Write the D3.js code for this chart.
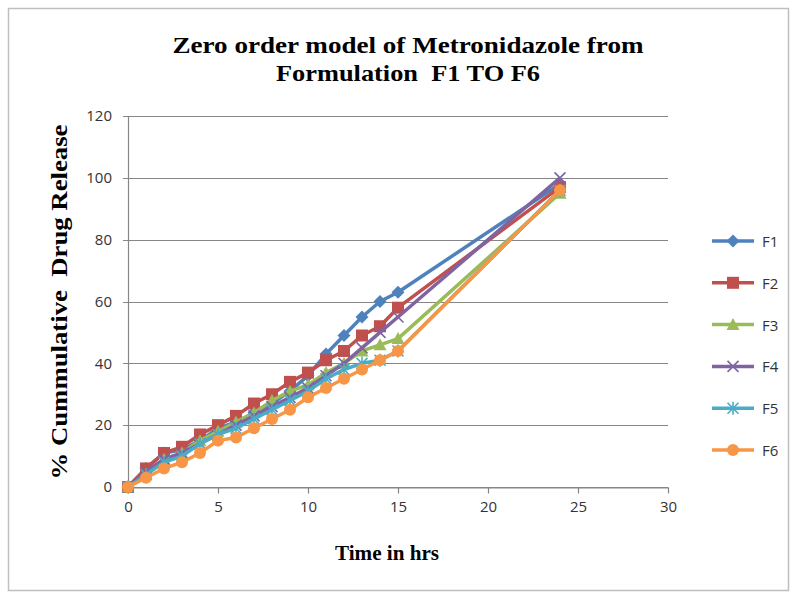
<!DOCTYPE html>
<html><head><meta charset="utf-8">
<script src="https://cdn.jsdelivr.net/npm/d3@7"></script>
<style>body{margin:0;background:#fff}svg{display:block}text{white-space:pre}</style>
</head><body>
<script>
const hours = [0,1,2,3,4,5,6,7,8,9,10,11,12,13,14,15,24];
const F1 = [0, 6, 11, 12, 15, 19, 21, 24, 27, 31, 36, 43, 49, 55, 60, 63, 98];
const F2 = [0, 6, 11, 13, 17, 20, 23, 27, 30, 34, 37, 41, 44, 49, 52, 58, 97];
const F3 = [0, 4, 9, 11, 15, 18, 21, 24, 28, 31, 33, 37, 40, 44, 46, 48, 95];
const F4 = [0, 5, 9, 11, 14, 17, 20, 23, 26, 29, 32, 36, 40, 45, 50, 55, 100];
const F5 = [0, 4, 8, 10, 14, 17, 19, 22, 25, 28, 31, 35, 38, 40, 41, 44, 96];
const F6 = [0, 3, 6, 8, 11, 15, 16, 19, 22, 25, 29, 32, 35, 38, 41, 44, 96];
const seriesNames = ["F1","F2","F3","F4","F5","F6"];
const seriesValues = [F1,F2,F3,F4,F5,F6];
const xTicks = [0,5,10,15,20,25,30];
const yTicks = [0,20,40,60,80,100,120];
const titleLines = ["Zero order model of Metronidazole from","Formulation  F1 TO F6"];
const xTitle = "Time in hrs";
const yTitle = "% Cummulative  Drug Release";

const colors = ["#4F81BD","#C0504D","#9BBB59","#8064A2","#4BACC6","#F79646"];
const W = 793, H = 594;
const serif = "'Liberation Serif', 'Times New Roman', serif";
const sans = "'Open Sans', sans-serif";
const svg = d3.select("body").append("svg").attr("width", W).attr("height", H);

svg.append("rect").attr("x", 8.5).attr("y", 8.5).attr("width", 780).attr("height", 582)
  .attr("fill", "#fff").attr("stroke", "#bfbfbf").attr("stroke-width", 1.5);

const x = d3.scaleLinear().domain([0, 30]).range([128, 668]);
const y = d3.scaleLinear().domain([0, 120]).range([487, 116]);

// gridlines
svg.append("g").selectAll("line").data(yTicks).join("line")
  .attr("x1", x(0) - 5).attr("x2", x(30))
  .attr("y1", d => Math.round(y(d)) + 0.5).attr("y2", d => Math.round(y(d)) + 0.5)
  .attr("stroke", "#868686").attr("stroke-width", 1.2);

// y axis line
svg.append("line").attr("x1", x(0)+0.5).attr("x2", x(0)+0.5).attr("y1", y(120)).attr("y2", y(0))
  .attr("stroke", "#868686").attr("stroke-width", 1.2);

// x axis
const xAxis = d3.axisBottom(x).tickValues(xTicks).tickSize(6).tickPadding(8).tickSizeOuter(0);
const gx = svg.append("g").attr("transform", `translate(0,${Math.round(y(0))+0.5})`).call(xAxis);
gx.select(".domain").attr("stroke", "#868686").attr("stroke-width", 1.2);
gx.selectAll(".tick line").attr("stroke", "#868686").attr("stroke-width", 1.2);
gx.selectAll("text").attr("font-family", sans).attr("font-size", 15).attr("fill", "#333");

// y axis labels
const yAxis = d3.axisLeft(y).tickValues(yTicks).tickSize(0).tickPadding(16);
const gy = svg.append("g").attr("transform", `translate(${x(0)},0)`).call(yAxis);
gy.select(".domain").remove();
gy.selectAll("text").attr("font-family", sans).attr("font-size", 15).attr("fill", "#333");

// titles
const titleLens = [471, 264];
titleLines.forEach((t, i) => svg.append("text").attr("x", 408).attr("y", 53 + i * 28)
  .attr("text-anchor", "middle").attr("font-family", serif).attr("font-weight", "bold")
  .attr("font-size", 23).attr("fill", "#000")
  .attr("textLength", titleLens[i]).attr("lengthAdjust", "spacingAndGlyphs").text(t));

svg.append("text").attr("x", 387).attr("y", 560).attr("text-anchor", "middle")
  .attr("font-family", serif).attr("font-weight", "bold").attr("font-size", 22)
  .attr("textLength", 104).attr("lengthAdjust", "spacingAndGlyphs").text(xTitle);

svg.append("text").attr("transform", "translate(67,302) rotate(-90)").attr("text-anchor", "middle")
  .attr("font-family", serif).attr("font-weight", "bold").attr("font-size", 23)
  .attr("textLength", 355).attr("lengthAdjust", "spacingAndGlyphs").text(yTitle);

// markers
function marker(g, i, cx, cy) {
  const c = colors[i];
  if (i === 0) g.append("path").attr("d", `M${cx},${cy-6.5}L${cx+6.5},${cy}L${cx},${cy+6.5}L${cx-6.5},${cy}Z`).attr("fill", c);
  else if (i === 1) g.append("rect").attr("x", cx-6).attr("y", cy-6).attr("width", 12).attr("height", 12).attr("fill", c);
  else if (i === 2) g.append("path").attr("d", `M${cx},${cy-6.5}L${cx+6.5},${cy+5.5}L${cx-6.5},${cy+5.5}Z`).attr("fill", c);
  else if (i === 3) g.append("path").attr("d", `M${cx-5.5},${cy-5.5}L${cx+5.5},${cy+5.5}M${cx+5.5},${cy-5.5}L${cx-5.5},${cy+5.5}`).attr("stroke", c).attr("stroke-width", 1.6);
  else if (i === 4) g.append("path").attr("d", `M${cx-5.5},${cy-5.5}L${cx+5.5},${cy+5.5}M${cx+5.5},${cy-5.5}L${cx-5.5},${cy+5.5}M${cx},${cy-6.5}L${cx},${cy+6.5}`).attr("stroke", c).attr("stroke-width", 1.6);
  else g.append("circle").attr("cx", cx).attr("cy", cy).attr("r", 6).attr("fill", c);
}

const line = d3.line().x(d => x(d[0])).y(d => y(d[1]));
seriesValues.forEach((vals, i) => {
  const pts = hours.map((h, k) => [h, vals[k]]);
  const g = svg.append("g");
  g.append("path").datum(pts).attr("d", line).attr("fill", "none")
    .attr("stroke", colors[i]).attr("stroke-width", 3.5).attr("stroke-linejoin", "round");
  pts.forEach(p => marker(g, i, x(p[0]), y(p[1])));
});

// legend
const lg = svg.append("g");
seriesNames.forEach((n, i) => {
  const ly = 241 + i * 41.8;
  lg.append("line").attr("x1", 712).attr("x2", 754).attr("y1", ly).attr("y2", ly)
    .attr("stroke", colors[i]).attr("stroke-width", 3.5);
  marker(lg, i, 733, ly);
  lg.append("text").attr("x", 762).attr("y", ly + 6).attr("font-family", sans)
    .attr("font-size", 15).attr("fill", "#333").text(n);
});
</script>
</body></html>
